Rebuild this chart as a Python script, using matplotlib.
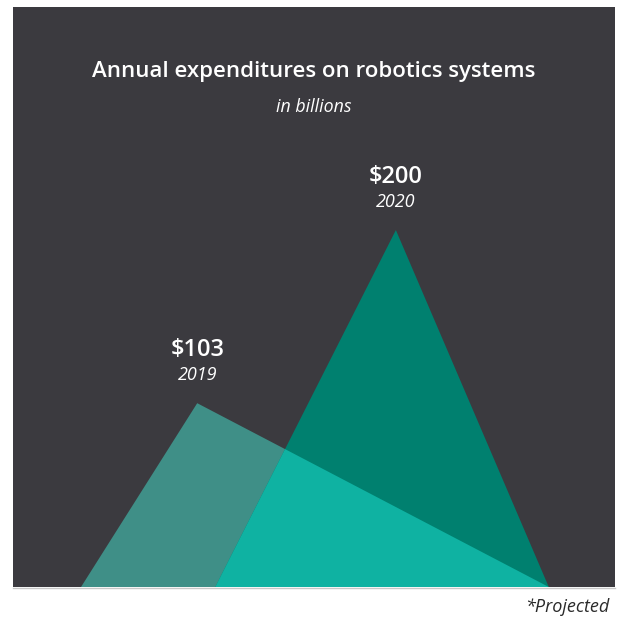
import matplotlib.pyplot as plt
from matplotlib.patches import Polygon

plt.rcParams['font.family'] = ['Open Sans', 'DejaVu Sans']

# spending in billions, triangle footprint on a 0-100 horizontal scale
years = ["2019", "2020"]
spend = [103, 200]
base_left = [11.3, 33.6]
peak_x = [30.6, 63.6]
base_right = [89.0, 89.0]

bg = "#3b3a3f"
col_2019 = "#3f8f87"
col_2020 = "#00806f"
col_both = "#0fb2a2"

fig = plt.figure(figsize=(6.19, 6.18), dpi=100)
fig.patch.set_facecolor("white")
ax = fig.add_axes([13 / 619, 31 / 618, 602 / 619, 580 / 618])
ax.set_facecolor(bg)
ax.set_xlim(0, 100)
ax.set_ylim(0, 325)
for s in ax.spines.values():
    s.set_visible(False)
ax.set_xticks([])
ax.set_yticks([])

tris = []
for i in range(2):
    pts = [(base_left[i], 0), (peak_x[i], spend[i]), (base_right[i], 0)]
    tris.append(pts)

p19 = Polygon(tris[0], closed=True, facecolor=col_2019, edgecolor="none")
p20 = Polygon(tris[1], closed=True, facecolor=col_2020, edgecolor="none")
ax.add_patch(p19)
ax.add_patch(p20)

# overlap: 2020 shape clipped to the 2019 shape
both = Polygon(tris[1], closed=True, facecolor=col_both, edgecolor="none")
ax.add_patch(both)
clip = Polygon(tris[0], closed=True, transform=ax.transData)
both.set_clip_path(clip)

for i in range(2):
    ax.annotate("$%d" % spend[i], (peak_x[i], spend[i]), xytext=(0, 38),
                textcoords="offset points", ha="center", va="center",
                color="white", fontsize=17, fontweight="semibold")
    ax.annotate(years[i], (peak_x[i], spend[i]), xytext=(0, 20.5),
                textcoords="offset points", ha="center", va="center",
                color="white", fontsize=13, style="italic")

fig.text(314 / 619, 1 - 72 / 618, "Annual expenditures on robotics systems",
         ha="center", va="center", color="white", fontsize=16,
         fontweight="semibold")
fig.text(314 / 619, 1 - 107 / 618, "in billions", ha="center", va="center",
         color="white", fontsize=12.8, style="italic")

# thin grey rule under the panel
fig.add_artist(plt.Line2D([13 / 619, 615 / 619], [30.5 / 618, 30.5 / 618],
                          color="#c8c8c8", lw=1))

fig.text(609 / 619, 1 - 607 / 618, "*Projected", ha="right", va="center",
         color="#2a2a2a", fontsize=13, style="italic")

fig.savefig("out.png", dpi=100, facecolor=fig.get_facecolor())
